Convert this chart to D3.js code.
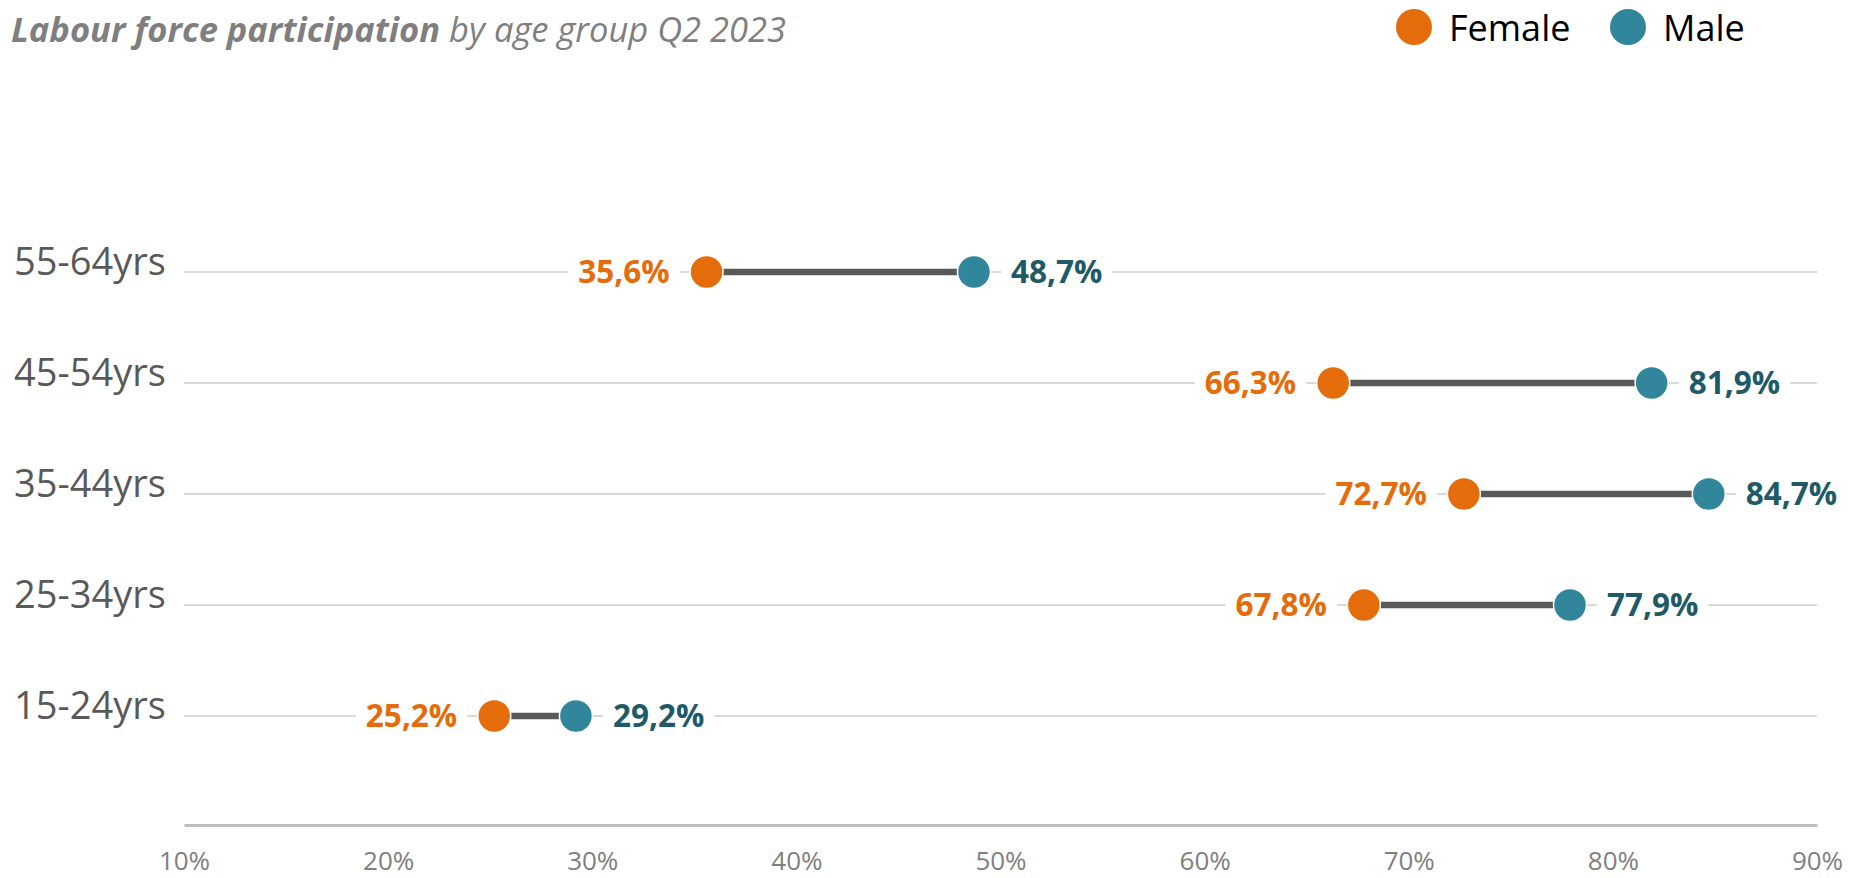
<!DOCTYPE html>
<html>
<head>
<meta charset="utf-8">
<script src="https://cdn.jsdelivr.net/npm/d3@7"></script>
<style>
  html, body { margin: 0; padding: 0; background: #fff; }
  svg { display: block; font-family: "Open Sans", "Noto Sans", sans-serif; }
</style>
</head>
<body>
<svg id="chart" width="1849" height="878"></svg>
<script>
const categories = ["55-64yrs", "45-54yrs", "35-44yrs", "25-34yrs", "15-24yrs"];
const femaleValues = [35.6, 66.3, 72.7, 67.8, 25.2];
const maleValues = [48.7, 81.9, 84.7, 77.9, 29.2];
const femaleLabels = ["35,6%", "66,3%", "72,7%", "67,8%", "25,2%"];
const maleLabels = ["48,7%", "81,9%", "84,7%", "77,9%", "29,2%"];
const xTicks = [10, 20, 30, 40, 50, 60, 70, 80, 90];
const xTickLabels = ["10%", "20%", "30%", "40%", "50%", "60%", "70%", "80%", "90%"];
const seriesNames = ["Female", "Male"];

const colors = { female: "#E46C0A", male: "#31869B", maleText: "#215A67", connector: "#595959" };

const svg = d3.select("#chart");
const x = d3.scaleLinear().domain([10, 90]).range([184, 1817]);
const y = d3.scalePoint().domain(categories).range([272, 716]);
const baselineY = 825;

// Title
const title = svg.append("text")
  .attr("x", 11).attr("y", 42)
  .attr("font-size", 34.5).attr("font-style", "italic").attr("fill", "#7F7F7F");
title.append("tspan").attr("font-weight", 700).text("Labour force participation");
title.append("tspan").attr("font-weight", 400).text(" by age group Q2 2023");

// Legend
const legend = svg.append("g");
const legendX = [1414, 1628];
seriesNames.forEach((name, i) => {
  legend.append("circle").attr("cx", legendX[i]).attr("cy", 27).attr("r", 18)
    .attr("fill", i === 0 ? colors.female : colors.male);
  legend.append("text").attr("x", legendX[i] + 35).attr("y", 41)
    .attr("font-size", 36).attr("fill", "#000").text(name);
});

// Gridlines
svg.append("g").selectAll("line").data(categories).join("line")
  .attr("x1", x(10)).attr("x2", x(90))
  .attr("y1", d => y(d)).attr("y2", d => y(d))
  .attr("stroke", "#D9D9D9").attr("stroke-width", 2);

// Category labels
svg.append("g").selectAll("text").data(categories).join("text")
  .attr("x", 14).attr("y", d => y(d) + 3)
  .attr("font-size", 38).attr("fill", "#595959").text(d => d);

// X axis
const xAxis = d3.axisBottom(x).tickValues(xTicks).tickSize(0).tickPadding(0)
  .tickFormat((d, i) => xTickLabels[i]);
const axisG = svg.append("g").attr("transform", `translate(0,${baselineY})`).call(xAxis);
axisG.select(".domain").attr("stroke", "#BFBFBF").attr("stroke-width", 3);
axisG.selectAll(".tick text").attr("font-size", 26).attr("fill", "#808080")
  .attr("font-family", "'Open Sans', sans-serif").attr("dy", 0).attr("y", 45);

const rows = categories.map((c, i) => ({ c, f: femaleValues[i], m: maleValues[i], fl: femaleLabels[i], ml: maleLabels[i] }));

// Connectors
svg.append("g").selectAll("line").data(rows).join("line")
  .attr("x1", d => x(d.f)).attr("x2", d => x(d.m))
  .attr("y1", d => y(d.c)).attr("y2", d => y(d.c))
  .attr("stroke", colors.connector).attr("stroke-width", 6.5);

// Dots
const dots = svg.append("g");
dots.selectAll("circle.f").data(rows).join("circle").attr("class", "f")
  .attr("cx", d => x(d.f)).attr("cy", d => y(d.c)).attr("r", 16.5)
  .attr("fill", colors.female).attr("stroke", "#fff").attr("stroke-width", 1.5);
dots.selectAll("circle.m").data(rows).join("circle").attr("class", "m")
  .attr("cx", d => x(d.m)).attr("cy", d => y(d.c)).attr("r", 16.5)
  .attr("fill", colors.male).attr("stroke", "#fff").attr("stroke-width", 1.5);

// Value labels with white background
function addLabel(g, xPos, yPos, text, anchor, color) {
  const t = g.append("text").attr("x", xPos).attr("y", yPos + 11)
    .attr("text-anchor", anchor).attr("font-size", 31.5).attr("font-weight", 700)
    .attr("fill", color).text(text);
  const bb = t.node().getBBox();
  g.insert("rect", () => t.node())
    .attr("x", bb.x - 10).attr("y", yPos - 3).attr("width", bb.width + 20).attr("height", 6)
    .attr("fill", "#fff");
}
const labelG = svg.append("g");
rows.forEach(d => {
  addLabel(labelG, x(d.f) - 37, y(d.c), d.fl, "end", colors.female);
  addLabel(labelG, x(d.m) + 37, y(d.c), d.ml, "start", colors.maleText);
});
</script>
</body>
</html>
